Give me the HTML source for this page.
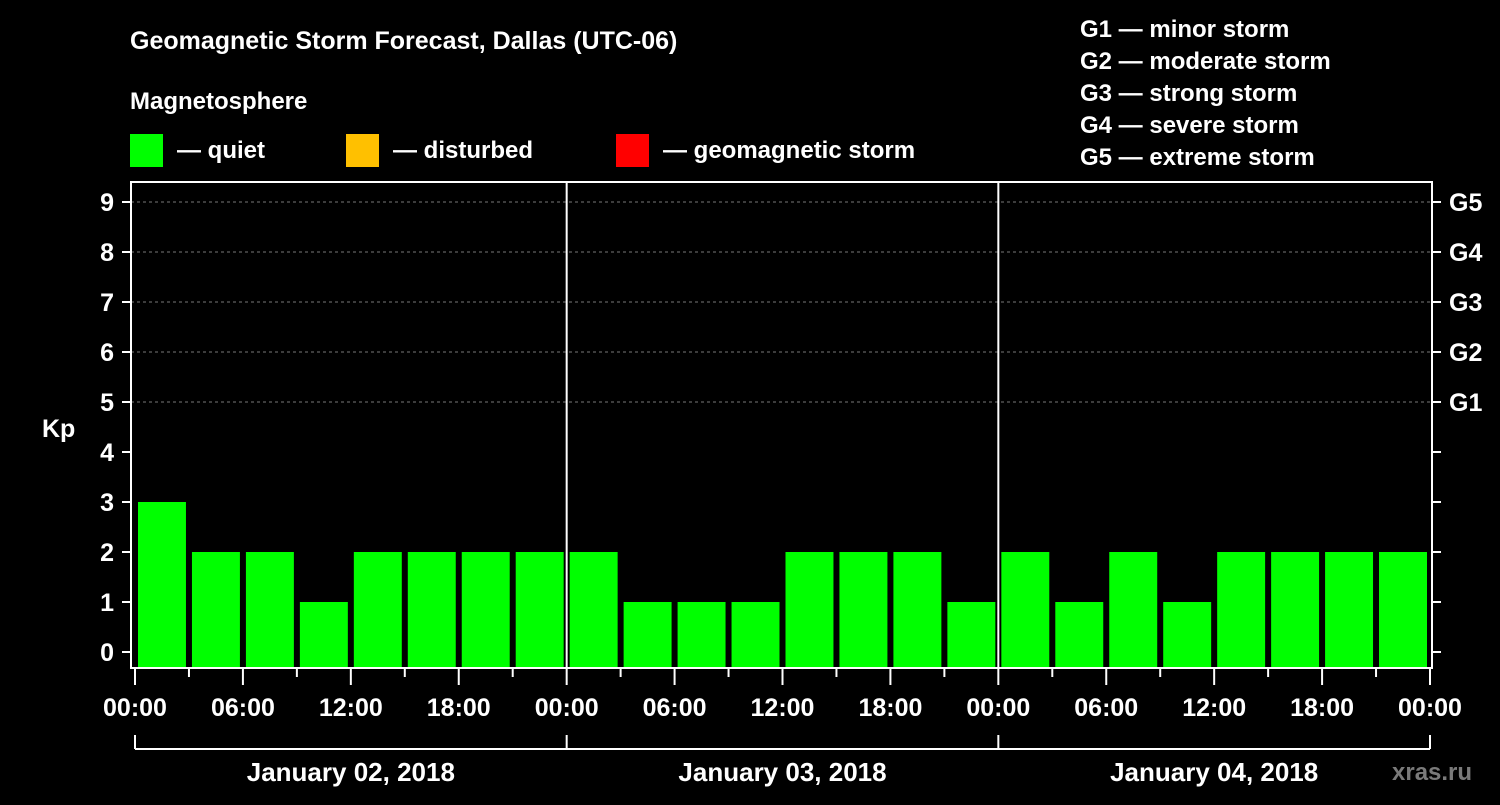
<!DOCTYPE html>
<html><head><meta charset="utf-8"><style>
body{margin:0;background:#000;width:1500px;height:800px;overflow:hidden}
text{font-family:"Liberation Sans",Arial,sans-serif;font-weight:bold;fill:#fff}
</style></head><body>
<svg id="c" width="1500" height="800">
<text x="130" y="49" font-size="25">Geomagnetic Storm Forecast, Dallas (UTC-06)</text>
<text x="130" y="109" font-size="24">Magnetosphere</text>
<g><rect x="130" y="134" width="33" height="33" fill="#00ff00"/><text x="177" y="158" font-size="24">— quiet</text></g>
<g><rect x="346" y="134" width="33" height="33" fill="#ffc000"/><text x="393" y="158" font-size="24">— disturbed</text></g>
<g><rect x="616" y="134" width="33" height="33" fill="#ff0000"/><text x="663" y="158" font-size="24">— geomagnetic storm</text></g>
<g font-size="24">
<text x="1080" y="37">G1 — minor storm</text><text x="1080" y="69">G2 — moderate storm</text><text x="1080" y="101">G3 — strong storm</text><text x="1080" y="133">G4 — severe storm</text><text x="1080" y="165">G5 — extreme storm</text></g>
<text x="42" y="437" font-size="25">Kp</text>
<text x="1392" y="780" font-size="24" fill="#666" style="fill:#7a7a7a">xras.ru</text>
<g id="plot"></g>
</svg>
<script>
const kpValues=[3,2,2,1,2,2,2,2, 2,1,1,1,2,2,2,1, 2,1,2,1,2,2,2,2];
const dayLabels=["January 02, 2018","January 03, 2018","January 04, 2018"];
const hourLabels=["00:00","06:00","12:00","18:00"];
const gLabels=["G1","G2","G3","G4","G5"];
const NS="http://www.w3.org/2000/svg";
const g=document.getElementById('plot');
const X0=135,X1=1430,slot=(X1-X0)/24;
const xs=i=>X0+i*slot;
const ys=v=>652-v*50;
function mk(t,a,txt){const e=document.createElementNS(NS,t);for(const k in a)e.setAttribute(k,a[k]);if(txt!=null)e.textContent=txt;g.appendChild(e);return e;}
// grid
for(let v=5;v<=9;v++){const e=mk('line',{x1:131,x2:1432,y1:ys(v),y2:ys(v),stroke:'#777','stroke-dasharray':'3,3','stroke-width':1});

}
// bars
kpValues.forEach((v,i)=>{const c=v>=5?'#ff0000':v>=4?'#ffc000':'#00ff00';
const e=mk('rect',{x:xs(i)+3,y:ys(v),width:slot-6,height:667-ys(v),fill:c});

});
// axes
mk('rect',{x:131,y:182,width:1301,height:486,fill:'none',stroke:'#fff','stroke-width':2});
for(let d=1;d<3;d++){mk('line',{x1:xs(d*8),x2:xs(d*8),y1:182,y2:668,stroke:'#fff','stroke-width':2});}
for(let v=0;v<=9;v++){mk('line',{x1:122,x2:131,y1:ys(v),y2:ys(v),stroke:'#fff','stroke-width':2});
const t=mk('text',{x:114,y:ys(v)+9,'font-size':25,'text-anchor':'end'},String(v));


mk('line',{x1:1432,x2:1441,y1:ys(v),y2:ys(v),stroke:'#fff','stroke-width':2});}
gLabels.forEach((l,i)=>{const t=mk('text',{x:1449,y:ys(5+i)+9,'font-size':25},l);

});
for(let i=0;i<=24;i++){const major=i%2==0;
mk('line',{x1:xs(i),x2:xs(i),y1:668,y2:major?685:677,stroke:'#fff','stroke-width':2});
if(major){const t=mk('text',{x:xs(i),y:716,'font-size':25,'text-anchor':'middle'},hourLabels[(i/2)%4]);

}}
mk('line',{x1:xs(0),x2:xs(24),y1:749,y2:749,stroke:'#fff','stroke-width':2});
for(let d=0;d<=3;d++)mk('line',{x1:xs(d*8),x2:xs(d*8),y1:735,y2:749,stroke:'#fff','stroke-width':2});
dayLabels.forEach((l,d)=>{const t=mk('text',{x:xs(d*8+4),y:781,'font-size':26,'text-anchor':'middle'},l);

});
</script>
</body></html>
